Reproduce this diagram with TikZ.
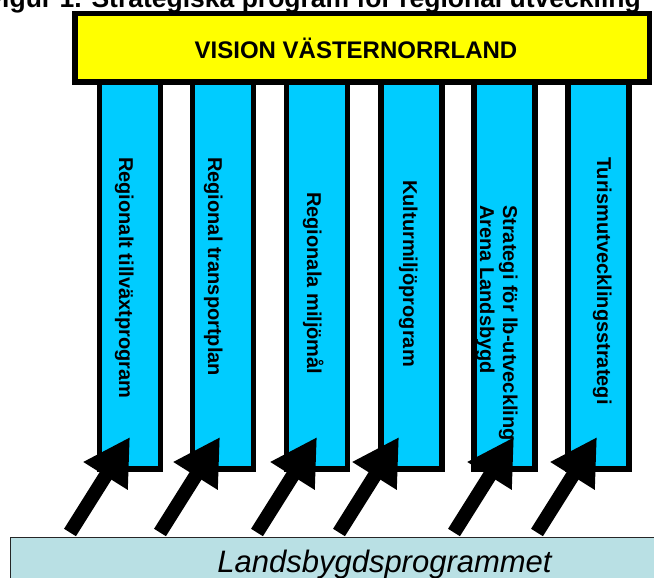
\documentclass[tikz,border=0pt]{standalone}
\usepackage{fontspec}
\setmainfont{Liberation Sans}
\usetikzlibrary{arrows.meta}
\definecolor{vyellow}{RGB}{255,255,0}
\definecolor{colcyan}{RGB}{0,204,255}
\definecolor{basefill}{RGB}{185,224,228}
\begin{document}
\begin{tikzpicture}[x=1pt,y=-1pt,
  colbox/.style={draw=black, fill=colcyan, line width=5.5pt, minimum width=61pt,
    minimum height=389pt, inner sep=0pt, outer sep=0pt},
  coltext/.style={rotate=-90, anchor=base west, inner sep=0pt,
    font=\fontsize{20}{23}\selectfont\bfseries},
  bigarrow/.style={line width=14pt, -{Triangle[length=46pt,width=49pt]}},
]
\useasboundingbox (0,0) rectangle (654,578);
\clip (0,0) rectangle (654,578);

% columns
\node[colbox] (c1) at (130,274.5) {};
\node[colbox] (c2) at (223,274.5) {};
\node[colbox] (c3) at (317,274.5) {};
\node[colbox] (c4) at (411.5,274.5) {};
\node[colbox] (c5) at (504.5,274.5) {};
\node[colbox] (c6) at (598.5,274.5) {};

% column texts
\node[coltext] (t1txt) at (119,157) {Regionalt tillväxtprogram};
\node[coltext] (t2txt) at (208,157) {Regional transportplan};
\node[coltext] (t3txt) at (307,192) {Regionala miljömål};
\node[coltext] (t4txt) at (403,180) {Kulturmiljöprogram};
\node[coltext] (t5atxt) at (503,205) {Strategi för lb-utveckling};
\node[coltext] (t5btxt) at (480,205) {Arena Landsbygd};
\node[coltext] (t6txt) at (597,157) {Turismutvecklingsstrategi};

% vision box
\node[draw=black, fill=vyellow, line width=5.5pt, minimum width=574.5pt,
  minimum height=68.5pt, inner sep=0pt] (vision) at (362,48) {};
\node[anchor=base, inner sep=0pt, font=\fontsize{24}{28}\selectfont\bfseries]
  (visiontxt) at (356,59) {VISION VÄSTERNORRLAND};

% title
\node[anchor=base east, inner sep=0pt, font=\fontsize{26.5}{30}\selectfont\bfseries]
  (title) at (641,8) {Figur 1. Strategiska program för regional utveckling};

% base box
\node[draw=black!85, fill=basefill, line width=1.2pt, anchor=north west,
  minimum width=700pt, minimum height=60pt, inner sep=0pt] (lbp) at (10,537) {};
\node[anchor=base, inner sep=0pt, font=\fontsize{31}{34}\selectfont\itshape]
  (lbptxt) at (384.5,572) {Landsbygdsprogrammet};

% arrows
\coordinate (a1) at (70,532.5);  \coordinate (h1) at (130,437);
\coordinate (a2) at (160,532.5); \coordinate (h2) at (220,437);
\coordinate (a3) at (257,532.5); \coordinate (h3) at (317,437);
\coordinate (a4) at (339,532.5); \coordinate (h4) at (399,437);
\coordinate (a5) at (454,532.5); \coordinate (h5) at (514,437);
\coordinate (a6) at (537,532.5); \coordinate (h6) at (597,437);
\foreach \i in {1,...,6} {\draw[bigarrow] (a\i) -- (h\i);}
\end{tikzpicture}
\end{document}
